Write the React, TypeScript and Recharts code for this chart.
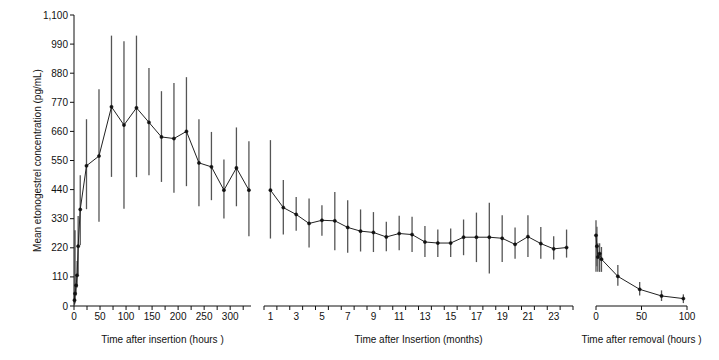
import { LineChart, Line, XAxis, YAxis, ErrorBar, Label } from "recharts";

// ─── Inserção (horas) ─────────────────────────────────────────────────────────
const insHours = [1, 2, 4, 6, 8, 12, 24, 48, 72, 96, 120, 144, 168, 192, 216, 240, 264, 288, 312, 336];
const insMean = [22, 47, 78, 116, 226, 365, 530, 567, 753, 684, 749, 694, 639, 633, 660, 541, 526, 438, 522, 438];
const insLow = [5, 10, 40, 70, 120, 230, 366, 318, 488, 368, 487, 494, 469, 428, 453, 377, 400, 331, 377, 264];
const insHigh = [45, 286, 120, 170, 340, 494, 706, 819, 1022, 1001, 1022, 900, 812, 843, 865, 706, 658, 554, 675, 623];

// ─── Inserção (meses) ─────────────────────────────────────────────────────────
const months = [1, 2, 3, 4, 5, 6, 7, 8, 9, 10, 11, 12, 13, 14, 15, 16, 17, 18, 19, 20, 21, 22, 23, 24];
const monMean = [438, 372, 346, 312, 324, 322, 297, 283, 278, 261, 274, 270, 242, 238, 238, 260, 260, 260, 256, 233, 262, 236, 216, 221];
const monLow = [255, 270, 284, 221, 266, 211, 201, 206, 204, 207, 211, 204, 185, 185, 185, 192, 166, 123, 166, 179, 185, 179, 176, 183];
const monHigh = [627, 476, 412, 406, 381, 431, 400, 365, 355, 318, 341, 337, 302, 289, 293, 327, 353, 390, 343, 297, 343, 299, 264, 289];

// ─── Remoção (horas) ──────────────────────────────────────────────────────────
const remHours = [0, 1, 2, 4, 6, 24, 48, 72, 96];
const remMean = [267, 226, 185, 198, 177, 112, 63, 38, 28];
const remLow = [129, 150, 129, 129, 129, 77, 40, 19, 11];
const remHigh = [324, 300, 237, 237, 223, 155, 91, 59, 44];

// eixos
const yTicks = [0, 110, 220, 330, 440, 550, 660, 770, 880, 990, 1100];
const hourTicks = [0, 25, 50, 75, 100, 125, 150, 175, 200, 225, 250, 275, 300, 325];
const monthEdges = [0.5, 1.5, 2.5, 3.5, 4.5, 5.5, 6.5, 7.5, 8.5, 9.5, 10.5, 11.5, 12.5, 13.5, 14.5, 15.5, 16.5, 17.5, 18.5, 19.5, 20.5, 21.5, 22.5, 23.5, 24.5];
const monthLabels = [1, 3, 5, 7, 9, 11, 13, 15, 17, 19, 21, 23];
const remTicks = [0, 50, 100];

const build = (xs: number[], mean: number[], low: number[], high: number[]) =>
  xs.map((x, i) => ({ x, y: mean[i], err: [mean[i] - low[i], high[i] - mean[i]] }));

const insData = build(insHours, insMean, insLow, insHigh);
const monData = build(months, monMean, monLow, monHigh);
const remData = build(remHours, remMean, remLow, remHigh);

const INK = "#111";
const BAR = "#555";
const tickStyle = { fontSize: 10, fill: INK };
const titleStyle = { fontSize: 10, fill: INK };
const H = 360;
const TOP = 15;
const AXIS_H = 54;

// painel dos meses: largura útil e meia categoria (rótulo fica entre dois traços)
const MON_W = 309;
const HALF_MONTH = MON_W / 24 / 2;

function MonthTick(props: any) {
  const { x, y, payload } = props;
  const m = payload.value + 0.5;
  if (!monthLabels.includes(m)) return null;
  return (
    <text x={x + HALF_MONTH} y={y} dy="0.71em" textAnchor="middle" fontSize={10} fill={INK}>
      {m}
    </text>
  );
}

function Series() {
  return (
    <Line
      dataKey="y"
      stroke="#222"
      strokeWidth={1}
      dot={{ r: 1.6, fill: INK, stroke: INK, strokeWidth: 0.5 }}
      isAnimationActive={false}
    >
      <ErrorBar dataKey="err" width={0} stroke={BAR} strokeWidth={1.3} direction="y" isAnimationActive={false} />
    </Line>
  );
}

export default function App() {
  return (
    <div
      style={{
        position: "absolute",
        left: 0,
        top: 0,
        width: 719,
        height: H,
        background: "#fff",
        fontFamily: '"Liberation Sans", Arial, sans-serif',
      }}
    >
      {/* painel 1 — horas após inserção */}
      <div style={{ position: "absolute", left: 0, top: 0 }}>
        <LineChart width={260} height={H} data={insData} margin={{ top: TOP, right: 9, left: 0, bottom: 0 }}>
          <YAxis
            type="number"
            domain={[0, 1100]}
            ticks={yTicks}
            interval={0}
            width={74}
            tickSize={4}
            tickMargin={2}
            tick={tickStyle}
            stroke={INK}
            tickFormatter={(v: number) => v.toLocaleString("en-US")}
          >
            <Label value="Mean etonogestrel concentration (pg/mL)" angle={-90} position="center" style={titleStyle} />
          </YAxis>
          <XAxis
            type="number"
            dataKey="x"
            domain={[0, 340]}
            ticks={hourTicks}
            interval={0}
            height={AXIS_H}
            tickSize={4}
            tickMargin={3}
            tick={tickStyle}
            stroke={INK}
            tickFormatter={(v: number) => (v % 50 === 0 ? String(v) : "")}
          >
            <Label value="Time after insertion (hours )" position="insideBottom" offset={17} style={titleStyle} />
          </XAxis>
          <Series />
        </LineChart>
      </div>

      {/* painel 2 — meses após inserção */}
      <div style={{ position: "absolute", left: 254, top: 0 }}>
        <LineChart width={MON_W + 20} height={H} data={monData} margin={{ top: TOP, right: 10, left: 10, bottom: 0 }}>
          <YAxis type="number" domain={[0, 1100]} hide />
          <XAxis
            type="number"
            dataKey="x"
            domain={[0.5, 24.5]}
            ticks={monthEdges}
            interval={0}
            height={AXIS_H}
            tickSize={4}
            tickMargin={3}
            tick={<MonthTick />}
            stroke={INK}
          >
            <Label value="Time after Insertion (months)" position="insideBottom" offset={17} style={titleStyle} />
          </XAxis>
          <Series />
        </LineChart>
      </div>

      {/* painel 3 — horas após remoção */}
      <div style={{ position: "absolute", left: 556, top: 0 }}>
        <LineChart width={163} height={H} data={remData} margin={{ top: TOP, right: 32, left: 40, bottom: 0 }}>
          <YAxis type="number" domain={[0, 1100]} hide />
          <XAxis
            type="number"
            dataKey="x"
            domain={[0, 100]}
            ticks={remTicks}
            interval={0}
            height={AXIS_H}
            tickSize={4}
            tickMargin={3}
            tick={tickStyle}
            stroke={INK}
          >
            <Label value="Time after removal (hours )" position="insideBottom" offset={17} style={titleStyle} />
          </XAxis>
          <Series />
        </LineChart>
      </div>
    </div>
  );
}
